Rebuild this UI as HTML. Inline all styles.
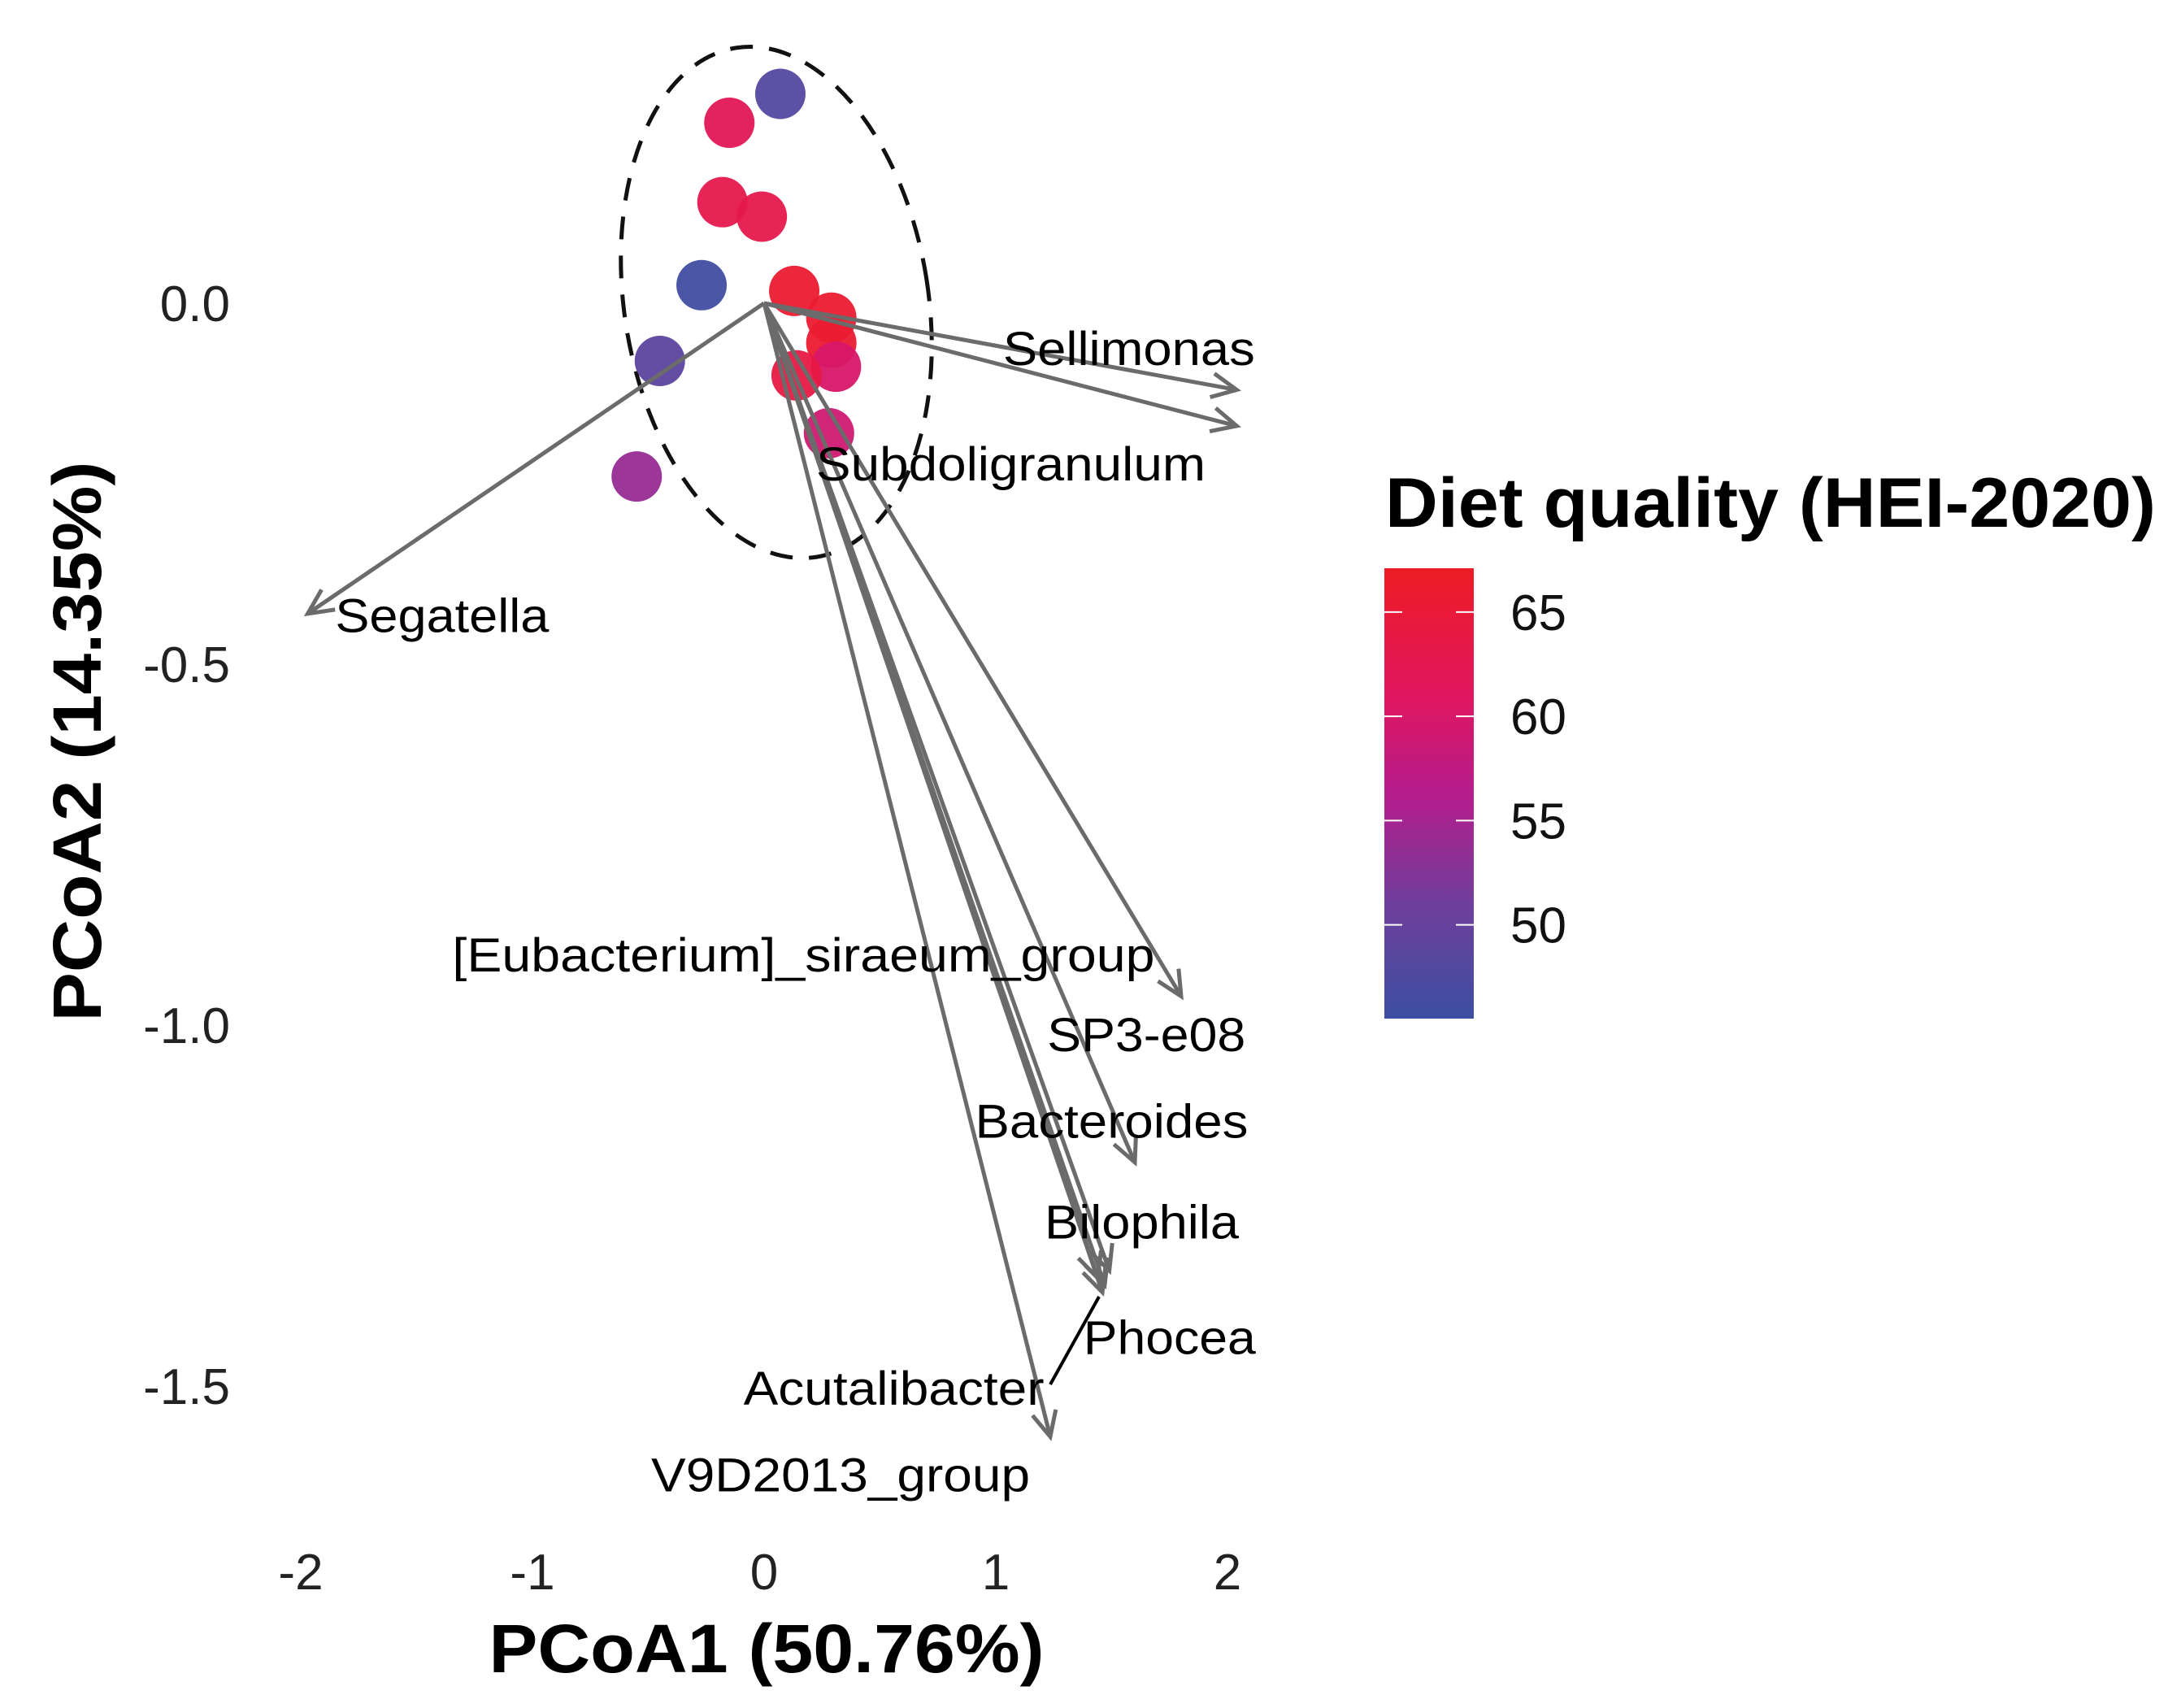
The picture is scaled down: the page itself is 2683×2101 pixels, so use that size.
<!DOCTYPE html>
<html><head><meta charset="utf-8"><style>
html,body{margin:0;padding:0;background:#fff;}
svg{display:block;font-family:"Liberation Sans",Arial,sans-serif;}
</style></head><body>
<svg id="chart" width="2683" height="2101" viewBox="0 0 2683 2101" xmlns="http://www.w3.org/2000/svg">
<defs>
<linearGradient id="cbar" x1="0" y1="1" x2="0" y2="0">
<stop offset="0" stop-color="#3c4fa1"/>
<stop offset="0.25" stop-color="#6e3f9c"/>
<stop offset="0.5" stop-color="#b61c8c"/>
<stop offset="0.72" stop-color="#e0165f"/>
<stop offset="1" stop-color="#ee1c25"/>
</linearGradient>
</defs>
<g id="plot"></g>
</svg>
<script>
const xTicks = [-2, -1, 0, 1, 2];
const yTicks = [0.0, -0.5, -1.0, -1.5];
const yTickLabels = ["0.0", "-0.5", "-1.0", "-1.5"];
const pointX = [0.07, -0.15, -0.18, -0.01, -0.27, 0.13, 0.29, 0.29, 0.31, 0.14, -0.45, 0.28, -0.55];
const pointY = [0.29, 0.25, 0.14, 0.12, 0.025, 0.017, -0.02, -0.055, -0.088, -0.10, -0.08, -0.18, -0.24];
const pointHEI = [48, 62, 63, 63, 46, 66, 66, 66, 60, 64, 49, 59, 54];
const arrowNames = ["Sellimonas", "Subdoligranulum", "Segatella", "[Eubacterium]_siraeum_group", "SP3-e08", "Bacteroides", "Bilophila", "Phocea", "Acutalibacter", "V9D2013_group"];
const arrowX = [2.04, 2.04, -1.97, 1.80, 1.44, 1.60, 1.47, 1.49, 1.46, 1.235];
const arrowY = [-0.12, -0.17, -0.43, -0.96, -1.35, -1.19, -1.36, -1.34, -1.37, -1.57];
const labelX = [1.575, 1.065, -1.39, 0.17, 1.65, 1.50, 1.63, 1.75, 0.56, 0.33];
const labelY = [-0.07, -0.23, -0.44, -0.91, -1.02, -1.14, -1.28, -1.44, -1.51, -1.63];
const legendTicks = [50, 55, 60, 65];
const hexMin = 45.5, hexMax = 67.1;
// label rendering widths (style, px)
const labelWidthsPx = [310, 479, 263, 864, 244, 336, 239, 212, 370, 466];

const NS = "http://www.w3.org/2000/svg";
const X0 = 940, XU = 285, Y0 = 373, YU = 888;
const sx = v => X0 + v * XU;
const sy = v => Y0 - v * YU;
const CB_TOP = 699, CB_BOT = 1253;
const cy = v => CB_BOT - (v - hexMin) / (hexMax - hexMin) * (CB_BOT - CB_TOP);
const svg = document.getElementById("plot");
function mk(tag, attrs, parent) {
  const e = document.createElementNS(NS, tag);
  for (const k in attrs) e.setAttribute(k, attrs[k]);
  (parent || svg).appendChild(e);
  return e;
}
const stops = [[0,[60,79,161]],[0.25,[110,63,156]],[0.5,[182,28,140]],[0.72,[224,22,95]],[1,[238,28,37]]];
function color(v) {
  let t = Math.max(0, Math.min(1, (v - hexMin) / (hexMax - hexMin)));
  for (let i = 1; i < stops.length; i++) {
    if (t <= stops[i][0]) {
      const a = stops[i-1], b = stops[i], f = (t - a[0]) / (b[0] - a[0]);
      const c = a[1].map((x, j) => Math.round(x + (b[1][j] - x) * f));
      return `rgb(${c[0]},${c[1]},${c[2]})`;
    }
  }
  return "rgb(238,28,37)";
}

// ellipse
const ell = mk("ellipse", {cx: 955, cy: 372, rx: 187, ry: 317, transform: "rotate(-9 955 372)", fill: "none", stroke: "#111", "stroke-width": 5, "stroke-dasharray": "28 20"});



// points
pointX.forEach((x, i) => {
  const c = mk("circle", {cx: sx(x), cy: sy(pointY[i]), r: 31, fill: color(pointHEI[i]), "fill-opacity": 0.95});
  
  
});

// arrows
arrowX.forEach((x, i) => {
  const x1 = sx(0), y1 = sy(0), x2 = sx(x), y2 = sy(arrowY[i]);
  const g = mk("g", {stroke: "#6b6b6b", "stroke-width": 5, fill: "none"});
  
  
  mk("line", {x1, y1, x2, y2}, g);
  const ang = Math.atan2(y2 - y1, x2 - x1), L = 34, s = 0.45;
  mk("polyline", {points: `${x2 - L*Math.cos(ang - s)},${y2 - L*Math.sin(ang - s)} ${x2},${y2} ${x2 - L*Math.cos(ang + s)},${y2 - L*Math.sin(ang + s)}`}, g);
});

// segment for Acutalibacter label
const seg = mk("line", {x1: 1352, y1: 1595, x2: 1292, y2: 1703, stroke: "#000", "stroke-width": 4});



// arrow labels
arrowNames.forEach((n, i) => {
  const t = mk("text", {x: sx(labelX[i]), y: sy(labelY[i]) + 14, "text-anchor": "middle", "font-size": 58, fill: "#000", textLength: labelWidthsPx[i], lengthAdjust: "spacingAndGlyphs"});
  t.textContent = n;
  
  
});

// axis ticks
xTicks.forEach(v => {
  const t = mk("text", {x: sx(v), y: 1955, "text-anchor": "middle", "font-size": 62, fill: "#222"});
  t.textContent = String(v);
  
  
});
yTicks.forEach((v, i) => {
  const t = mk("text", {x: 283, y: sy(v) + 22, "text-anchor": "end", "font-size": 62, fill: "#222"});
  t.textContent = yTickLabels[i];
  
  
});

// axis titles
const xt = mk("text", {x: 943, y: 2057, "text-anchor": "middle", "font-size": 84, "font-weight": "bold", fill: "#000", textLength: 683, lengthAdjust: "spacingAndGlyphs"});
xt.textContent = "PCoA1 (50.76%)";


const yt = mk("text", {x: 0, y: 0, transform: "translate(124 912) rotate(-90)", "text-anchor": "middle", "font-size": 84, "font-weight": "bold", fill: "#000", textLength: 689, lengthAdjust: "spacingAndGlyphs"});
yt.textContent = "PCoA2 (14.35%)";



// legend
const lt = mk("text", {x: 1704, y: 648, "font-size": 86, "font-weight": "bold", fill: "#000", textLength: 948, lengthAdjust: "spacingAndGlyphs"});
lt.textContent = "Diet quality (HEI-2020)";


const cb = mk("rect", {x: 1703, y: CB_TOP, width: 110, height: CB_BOT - CB_TOP, fill: "url(#cbar)"});


legendTicks.forEach(v => {
  const y = cy(v);
  const l1 = mk("line", {x1: 1703, x2: 1725, y1: y, y2: y, stroke: "#fff", "stroke-width": 2});
  
  
  const l2 = mk("line", {x1: 1791, x2: 1813, y1: y, y2: y, stroke: "#fff", "stroke-width": 2});
  
  
  const t = mk("text", {x: 1858, y: y + 22, "font-size": 62, fill: "#111"});
  t.textContent = String(v);
  
  
});
</script>
</body></html>
